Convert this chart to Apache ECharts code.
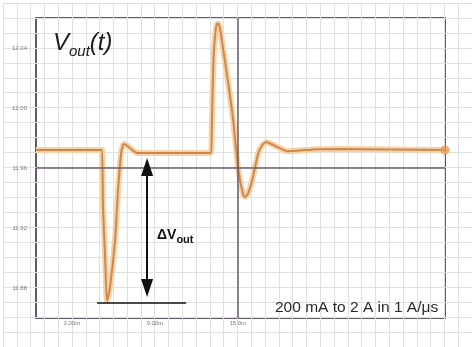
<!DOCTYPE html>
<html><head><meta charset="utf-8">
<script src="https://cdn.jsdelivr.net/npm/echarts@6/dist/echarts.min.js"></script>
<style>html,body{margin:0;padding:0;background:#fff}#c{width:472px;height:347px}</style>
</head><body><div id="c"></div>
<script>
// time in "m" units, voltage in V
const tValues = [0.40, 5.04, 5.18, 5.25, 5.40, 5.54, 5.76, 6.12, 6.34, 6.56, 6.70, 6.78, 7.21, 7.72, 10.83, 13.06,
  13.12, 13.18, 13.26, 13.38, 13.50, 13.62, 13.76, 13.95, 14.31, 14.67, 15.04, 15.40, 15.54, 15.76, 16.05, 16.49, 16.78, 17.07,
  17.43, 17.86, 18.59, 19.53, 20.47, 22.43, 30.0];
const vValues = [11.972, 11.972, 11.972, 11.934, 11.9007, 11.8713, 11.8807, 11.912, 11.9453, 11.970, 11.9753, 11.976, 11.9733, 11.970, 11.970, 11.970,
  11.985, 12.010, 12.035, 12.050, 12.0563, 12.0560, 12.051, 12.0387, 12.0167, 11.992, 11.9587, 11.942, 11.9407, 11.9433, 11.952, 11.970, 11.9753, 11.9773,
  11.976, 11.974, 11.9712, 11.9716, 11.9724, 11.9726, 11.972];
const xTicks = [3, 9, 15];
const xTickLabels = ['3.00m', '9.00m', '15.0m'];
const yTicks = [11.88, 11.92, 11.96, 12.00, 12.04];
const yTickLabels = ['11.88', '11.92', '11.96', '12.00', '12.04'];
const refTime = 15;
const refVolt = 11.96;

const data = tValues.map((t, i) => [t, vValues[i]]);
const last = data[data.length - 1];
const pick = (vals, labels) => v => {
  const i = vals.findIndex(x => Math.abs(x - v) < 1e-6);
  return i >= 0 ? labels[i] : '';
};

const chart = echarts.init(document.getElementById('c'), null, {renderer: 'canvas'});
const darkLine = '#6a5d6c';
chart.setOption({
  animation: false,
  backgroundColor: '#ffffff',
  textStyle: {fontFamily: 'Liberation Sans, Arial, sans-serif'},
  title: [
    {text: '{v|V}{s|out}{v|(t)}', left: 53, top: 27, padding: 0,
     textStyle: {fontWeight: 'normal', rich: {
       v: {fontSize: 24, fontStyle: 'italic', fontWeight: 'normal', color: '#1c1c1c', lineHeight: 32, verticalAlign: 'middle', fontFamily: 'Liberation Sans'},
       s: {fontSize: 15, fontStyle: 'italic', fontWeight: 'normal', color: '#1c1c1c', lineHeight: 15, verticalAlign: 'bottom', fontFamily: 'Liberation Sans'}
     }}},
    {text: '{a|ΔV}{b|out}', left: 157, top: 226, padding: 0,
     textStyle: {rich: {
       a: {fontSize: 14, fontWeight: 'bold', color: '#111', lineHeight: 19, verticalAlign: 'middle', fontFamily: 'Liberation Sans'},
       b: {fontSize: 11, fontWeight: 'bold', color: '#111', lineHeight: 11, verticalAlign: 'bottom', fontFamily: 'Liberation Sans'}
     }}},
    {text: '200 mA to 2 A in 1 A/μs', left: 275, top: 300, padding: 0,
     textStyle: {fontSize: 15.5, fontWeight: 'normal', color: '#2a2a2a', fontFamily: 'Liberation Sans'}}
  ],
  grid: [
    {left: 3, right: 0, top: 3, bottom: -1, show: false},
    {left: 36, right: 27, top: 18, bottom: 29, show: true, borderColor: '#65586a', borderWidth: 2, backgroundColor: 'transparent'}
  ],
  xAxis: [
    {gridIndex: 0, type: 'value', min: -2, max: 32, interval: 1,
     axisLine: {show: false}, axisTick: {show: false}, axisLabel: {show: false},
     splitLine: {show: true, lineStyle: {color: '#e0e0e0', width: 1}}},
    {gridIndex: 1, type: 'value', min: 0.4, max: 30,
     axisLine: {show: false}, axisTick: {show: false}, splitLine: {show: false},
     axisLabel: {customValues: xTicks, formatter: pick(xTicks, xTickLabels), fontSize: 6, color: '#777', margin: 2}}
  ],
  yAxis: [
    {gridIndex: 0, type: 'value', min: 11.84, max: 12.07, interval: 0.01,
     axisLine: {show: false}, axisTick: {show: false}, axisLabel: {show: false},
     splitLine: {show: true, lineStyle: {color: '#e0e0e0', width: 1}}},
    {gridIndex: 1, type: 'value', min: 11.86, max: 12.06,
     axisLine: {show: false}, axisTick: {show: false}, splitLine: {show: false},
     axisLabel: {customValues: yTicks, formatter: pick(yTicks, yTickLabels), fontSize: 6, color: '#777', margin: 9}}
  ],
  series: [
    {type: 'line', xAxisIndex: 1, yAxisIndex: 1, data: data, symbol: 'none', smooth: 0.2, clip: false,
     lineStyle: {color: '#f8d2a6', width: 6}, z: 3,
     markLine: {silent: true, symbol: 'none', label: {show: false},
       lineStyle: {color: darkLine, width: 1.5, type: 'solid'},
       data: [{yAxis: refVolt}, {xAxis: refTime}]}},
    {type: 'line', xAxisIndex: 1, yAxisIndex: 1, data: data, symbol: 'none', smooth: 0.2, clip: false,
     lineStyle: {color: '#c98a52', width: 2}, z: 4,
     markLine: {silent: true, label: {show: false}, z: 6,
       data: [
         [{coord: [4.82, 11.87], symbol: 'none'}, {coord: [11.27, 11.87], symbol: 'none',
           lineStyle: {color: '#111', width: 1.5, type: 'solid'}}],
         [{coord: [8.44, 11.9607], symbol: 'triangle', symbolSize: [12, 18]},
          {coord: [8.44, 11.880], symbol: 'triangle', symbolSize: [12, 18],
           lineStyle: {color: '#111', width: 2, type: 'solid'}}]
       ],
       lineStyle: {color: '#111', width: 2, type: 'solid'},
       itemStyle: {color: '#111'}}},
    {type: 'scatter', xAxisIndex: 1, yAxisIndex: 1, data: [last], symbol: 'circle', symbolSize: 9,
     itemStyle: {color: '#ec9a55'}, clip: false, z: 5}
  ]
});
</script></body></html>
